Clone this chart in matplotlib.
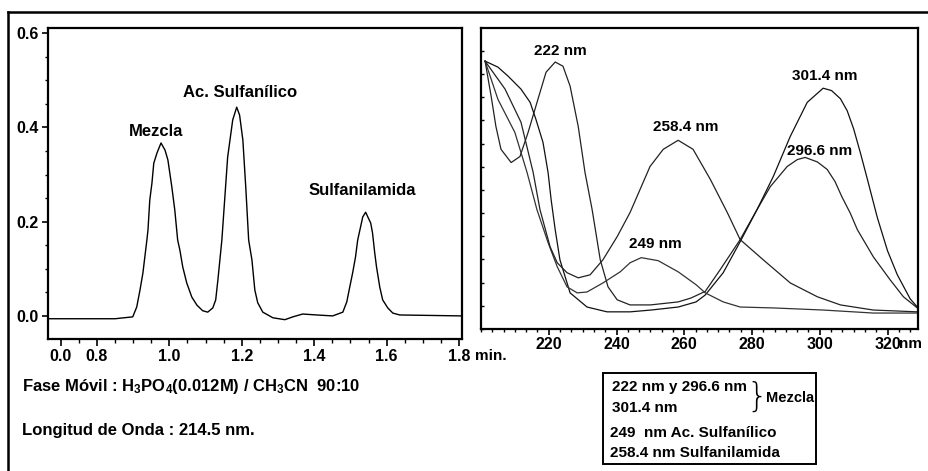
import matplotlib
matplotlib.use("Agg")
import matplotlib.pyplot as plt
from matplotlib.lines import Line2D
from matplotlib.ticker import MultipleLocator, FixedLocator

plt.rcParams['font.family'] = ['Liberation Sans Narrow', 'Liberation Sans', 'DejaVu Sans']
plt.rcParams['font.weight'] = 'bold'
plt.rcParams['mathtext.default'] = 'regular'

# chromatogram (left)
t_min = [0.665, 0.850, 0.899, 0.910, 0.919, 0.927, 0.938, 0.941, 0.946, 0.952, 0.957,
         0.966, 0.977, 0.988, 0.996, 1.007, 1.015, 1.023, 1.029, 1.037, 1.048, 1.062,
         1.076, 1.092, 1.106, 1.120, 1.128, 1.134, 1.145, 1.161, 1.175, 1.186, 1.194,
         1.203, 1.211, 1.219, 1.228, 1.236, 1.244, 1.258, 1.286, 1.319, 1.341, 1.368,
         1.407, 1.451, 1.479, 1.490, 1.498, 1.506, 1.514, 1.520, 1.526, 1.534, 1.542,
         1.548, 1.556, 1.561, 1.567, 1.572, 1.581, 1.589, 1.603, 1.617, 1.636, 1.807]
absorb = [-0.006, -0.006, -0.002, 0.019, 0.055, 0.091, 0.161, 0.182, 0.246, 0.282, 0.324,
          0.346, 0.367, 0.352, 0.331, 0.273, 0.225, 0.161, 0.140, 0.104, 0.070, 0.040,
          0.023, 0.011, 0.008, 0.017, 0.034, 0.076, 0.161, 0.337, 0.416, 0.443, 0.426,
          0.373, 0.273, 0.161, 0.119, 0.055, 0.028, 0.008, -0.004, -0.008, -0.002, 0.004,
          0.002, 0.000, 0.008, 0.030, 0.061, 0.091, 0.125, 0.161, 0.182, 0.210, 0.220,
          0.210, 0.197, 0.176, 0.134, 0.104, 0.061, 0.034, 0.017, 0.006, 0.002, 0.000]

# UV spectra (right)
wl_mez1 = [201.2, 203.0, 204.4, 205.9, 208.9, 211.5, 213.9, 216.8, 219.2, 221.9, 224.2,
           226.3, 228.7, 230.7, 232.8, 235.2, 237.5, 240.2, 244.0, 250.0, 258.2, 262.0,
           266.2, 270.6, 276.5, 281.5, 285.4, 290.4, 293.4, 295.7, 299.3, 302.2, 304.5,
           306.5, 309.0, 311.1, 315.8, 320.8, 324.7, 328.8]
a_mez1 = [0.890, 0.773, 0.673, 0.597, 0.553, 0.573, 0.653, 0.763, 0.853, 0.887, 0.873,
          0.807, 0.673, 0.520, 0.397, 0.230, 0.140, 0.097, 0.080, 0.080, 0.090, 0.103,
          0.125, 0.197, 0.297, 0.397, 0.473, 0.540, 0.563, 0.570, 0.555, 0.530, 0.490,
          0.440, 0.385, 0.330, 0.240, 0.163, 0.107, 0.070]

wl_mez2 = [201.2, 205.0, 208.0, 211.8, 214.5, 216.2, 218.3, 219.8, 220.7, 221.9, 223.3,
           226.3, 231.3, 237.2, 244.0, 250.2, 258.2, 263.5, 266.2, 271.5, 276.5, 281.5,
           286.3, 291.3, 296.3, 301.0, 303.5, 306.1, 308.1, 310.0, 312.0, 314.0, 317.0,
           320.0, 322.9, 326.7, 328.8]
a_mez2 = [0.890, 0.870, 0.840, 0.797, 0.753, 0.697, 0.620, 0.520, 0.430, 0.330, 0.230,
          0.120, 0.073, 0.057, 0.057, 0.063, 0.073, 0.090, 0.113, 0.187, 0.290, 0.397,
          0.507, 0.640, 0.753, 0.800, 0.792, 0.765, 0.725, 0.665, 0.585, 0.500, 0.370,
          0.260, 0.180, 0.100, 0.073]

wl_sac = [201.2, 205.0, 210.0, 213.6, 216.5, 219.8, 222.5, 225.4, 228.4, 231.3, 236.0,
          241.1, 244.0, 247.3, 252.3, 258.2, 263.5, 266.2, 271.5, 276.5, 286.3, 301.0,
          315.8, 328.8]
a_sac = [0.890, 0.763, 0.653, 0.520, 0.397, 0.287, 0.207, 0.140, 0.120, 0.123, 0.153,
         0.190, 0.220, 0.237, 0.227, 0.190, 0.147, 0.120, 0.090, 0.073, 0.070, 0.063,
         0.053, 0.053]

wl_sam = [201.2, 207.1, 211.8, 215.4, 217.4, 220.4, 222.5, 225.4, 228.7, 232.2, 236.0,
          240.2, 244.0, 249.9, 253.8, 258.2, 262.6, 267.7, 272.7, 276.5, 283.3, 291.3,
          299.3, 306.1, 315.8, 328.8]
a_sam = [0.890, 0.797, 0.687, 0.520, 0.397, 0.273, 0.220, 0.187, 0.170, 0.180, 0.230,
         0.307, 0.387, 0.540, 0.597, 0.627, 0.597, 0.497, 0.387, 0.297, 0.230, 0.153,
         0.107, 0.080, 0.063, 0.057]

W, H = 929, 471
fig = plt.figure(figsize=(W / 100, H / 100), dpi=100)


def fx(x):
    return x / W


def fy(y):
    return 1 - y / H


# outer frame (left and top edges visible)
fig.add_artist(Line2D([fx(8), fx(8)], [fy(12), 0], color='black', lw=1.8))
fig.add_artist(Line2D([fx(8), 1], [fy(12), fy(12)], color='black', lw=1.8))

# ---- left: chromatogram
ax1 = fig.add_axes([fx(48), fy(339), (462 - 48) / W, (339 - 28) / H])
ax1.plot(t_min, absorb, color='black', lw=1.0)
ax1.set_xlim(0.665, 1.808)
ax1.set_ylim(-0.049, 0.611)
ax1.xaxis.set_major_locator(FixedLocator([0.70, 0.8, 1.0, 1.2, 1.4, 1.6, 1.8]))
ax1.set_xticklabels(['0.0', '0.8', '1.0', '1.2', '1.4', '1.6', '1.8'])
ax1.xaxis.set_minor_locator(MultipleLocator(0.05))
ax1.yaxis.set_major_locator(FixedLocator([0.0, 0.2, 0.4, 0.6]))
ax1.set_yticklabels(['0.0', '0.2', '0.4', '0.6'])
ax1.yaxis.set_minor_locator(MultipleLocator(0.05))
ax1.tick_params(axis='x', which='major', direction='out', length=5, width=1.2,
                pad=2, labelsize=11.5)
ax1.tick_params(axis='x', which='minor', direction='out', length=3, width=1)
ax1.tick_params(axis='y', which='major', direction='out', length=4, width=1.2,
                pad=3, labelsize=11.5)
ax1.tick_params(axis='y', which='minor', direction='out', length=2.5, width=1)
for s in ax1.spines.values():
    s.set_linewidth(1.6)

ax1.text(0.963, 0.392, 'Mezcla', ha='center', va='center', fontsize=12)
ax1.text(1.194, 0.475, 'Ac. Sulfanílico', ha='center', va='center', fontsize=12)
ax1.text(1.534, 0.267, 'Sulfanilamida', ha='center', va='center', fontsize=12)

fig.text(fx(475), fy(356), 'min.', ha='left', va='center', fontsize=11)
fig.text(fx(22), fy(387), r'Fase Móvil : H$_3$PO$_4$(0.012M) / CH$_3$CN  90:10',
         ha='left', va='center', fontsize=12)
fig.text(fx(22), fy(430), 'Longitud de Onda : 214.5 nm.', ha='left', va='center',
         fontsize=12)

# ---- right: UV spectra
ax2 = fig.add_axes([fx(481), fy(329), (918 - 481) / W, (329 - 28) / H])
ax2.plot(wl_mez1, a_mez1, color='#222222', lw=0.9)
ax2.plot(wl_mez2, a_mez2, color='#111111', lw=0.9)
ax2.plot(wl_sac, a_sac, color='#333333', lw=0.9)
ax2.plot(wl_sam, a_sam, color='#222222', lw=0.9)
ax2.set_xlim(200, 329)
ax2.set_ylim(0, 1.0)
ax2.xaxis.set_major_locator(FixedLocator([220, 240, 260, 280, 300, 320]))
ax2.xaxis.set_minor_locator(MultipleLocator(20 / 6))
ax2.yaxis.set_minor_locator(MultipleLocator(0.077))
ax2.yaxis.set_major_locator(FixedLocator([]))
ax2.tick_params(axis='x', which='major', direction='out', length=4, width=1.2,
                pad=2, labelsize=11.5)
ax2.tick_params(axis='x', which='minor', direction='out', length=2.5, width=1)
ax2.tick_params(axis='y', which='minor', direction='in', length=2.5, width=1)
for s in ax2.spines.values():
    s.set_linewidth(1.6)

ax2.text(223.3, 0.923, '222 nm', ha='center', va='center', fontsize=11)
ax2.text(301.6, 0.840, '301.4 nm', ha='center', va='center', fontsize=11)
ax2.text(260.3, 0.670, '258.4 nm', ha='center', va='center', fontsize=11)
ax2.text(300.1, 0.593, '296.6 nm', ha='center', va='center', fontsize=11)
ax2.text(251.4, 0.283, '249 nm', ha='center', va='center', fontsize=11)

fig.text(fx(899), fy(344), 'nm', ha='left', va='center', fontsize=11)

# legend box
box = plt.Rectangle((fx(603), fy(464)), (816 - 603) / W, (464 - 373) / H,
                    transform=fig.transFigure, fill=False, lw=1.4, color='black')
fig.add_artist(box)
fig.text(fx(612), fy(387), '222 nm y 296.6 nm', ha='left', va='center', fontsize=11)
fig.text(fx(612), fy(408), '301.4 nm', ha='left', va='center', fontsize=11)
fig.text(fx(746), fy(397), '}', ha='left', va='center', fontsize=24,
         fontweight='light', family='DejaVu Sans')
fig.text(fx(766), fy(398), 'Mezcla', ha='left', va='center', fontsize=10.5)
fig.text(fx(610), fy(433), '249  nm Ac. Sulfanílico', ha='left', va='center',
         fontsize=11)
fig.text(fx(610), fy(453), '258.4 nm Sulfanilamida', ha='left', va='center',
         fontsize=11)

fig.savefig('out.png', dpi=100)
